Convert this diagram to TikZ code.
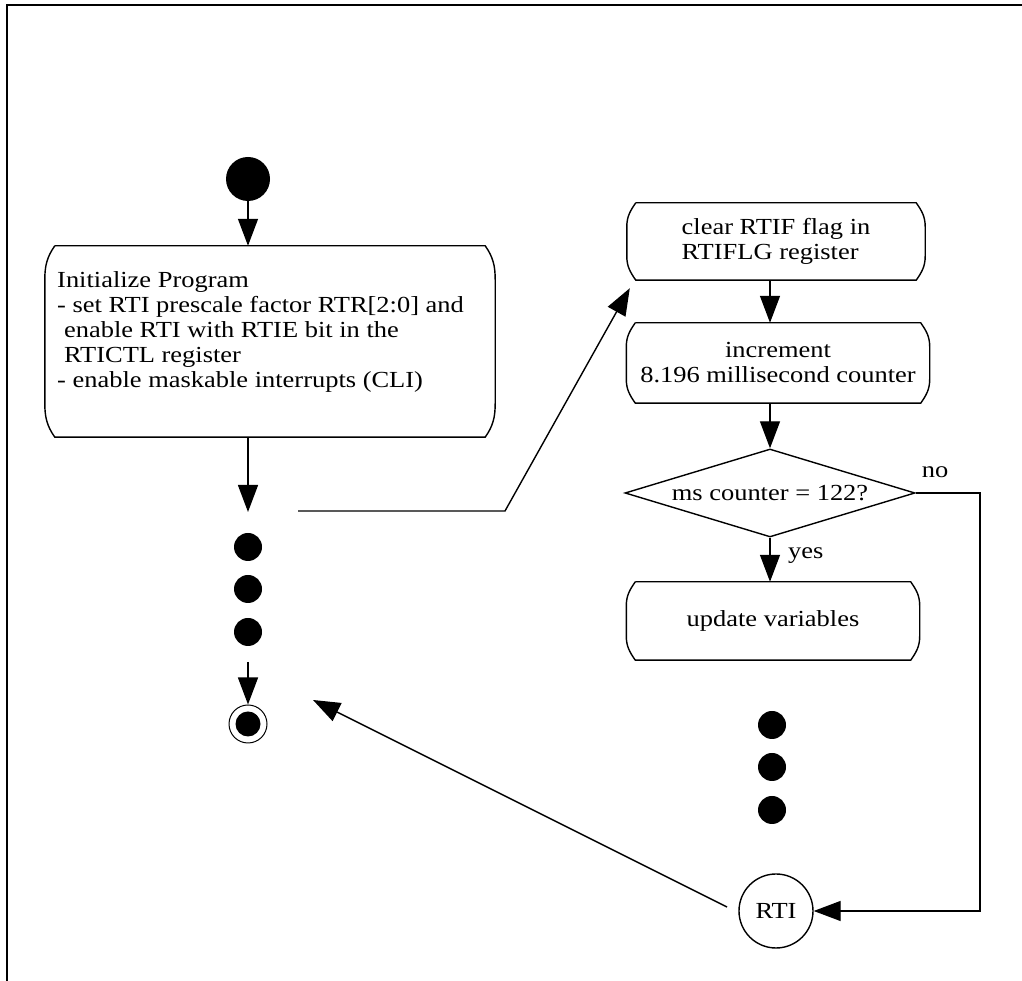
\documentclass[tikz,border=0pt]{standalone}
\usepackage{fontspec}
\setmainfont[FakeStretch=1.15]{Liberation Serif}
\usetikzlibrary{arrows.meta,shapes.geometric,calc}

% outline of an activity box: straight top/bottom, bulging sides
\newcommand\actoutline[3]{%
  \draw[ln] ($(#1.north west)+(#2,0)$) -- ($(#1.north east)+(-#2,0)$)
    to[out=-55,in=90] ($(#1.north east)+(0,-#3)$) -- ($(#1.south east)+(0,#3)$)
    to[out=-90,in=55] ($(#1.south east)+(-#2,0)$) -- ($(#1.south west)+(#2,0)$)
    to[out=125,in=-90] ($(#1.south west)+(0,#3)$) -- ($(#1.north west)+(0,-#3)$)
    to[out=90,in=-125] ($(#1.north west)+(#2,0)$);}

\begin{document}
\begin{tikzpicture}[x=1pt,y=1pt,
  every node/.style={font=\fontsize{23}{25}\selectfont},
  ln/.style={line width=1.4pt},
  arr/.style={ln,-{Triangle[length=27pt,width=20pt]}},
  actbox/.style={rectangle,inner sep=0pt},
  bigdot/.style={circle,fill=black,inner sep=0pt,minimum size=28pt},
  decision/.style={diamond,draw,ln,inner sep=0pt,shape aspect=3.3,
    minimum width=290pt,minimum height=88pt},
]
\useasboundingbox (0,0) rectangle (1022,981);

% page frame
\draw[line width=1.6pt] (7,0) -- (7,976);
\draw[line width=2.6pt] (6,976) -- (1022,976);

% main program column
\node[circle,fill=black,inner sep=0pt,minimum width=42pt,minimum height=44pt] (start) at (248,802) {};
\node[actbox,minimum width=450pt,minimum height=191pt] (init) at (270,639.5) {};
\actoutline{init}{10}{34}
\node[anchor=north west,align=left,inner sep=0pt] (inittext) at (57,710)
  {Initialize Program\\
   - set RTI prescale factor RTR[2:0] and\\
   \hspace*{0.3em}enable RTI with RTIE bit in the\\
   \hspace*{0.3em}RTICTL register\\
   - enable maskable interrupts (CLI)};
\coordinate (a1) at (248,469);
\node[bigdot] (d1) at (248,434) {};
\node[bigdot] (d2) at (248,392) {};
\node[bigdot] (d3) at (248,349) {};
\coordinate (a2) at (248,319);
\node[circle,draw,line width=1pt,inner sep=0pt,minimum size=38pt,
  path picture={\fill (path picture bounding box.center) circle (12.5pt);}] (end) at (248,257) {};

\draw[arr] (start.south) -- (start.south |- init.north);
\draw[arr] (init.south -| start) -- (a1);
\draw[arr] (a2) -- (end.north);

% interrupt service routine column
\node[actbox,minimum width=298pt,minimum height=77pt,align=left] (b1) at (776,739.5)
  {clear RTIF flag in\\RTIFLG register};
\actoutline{b1}{9}{24}
\node[actbox,minimum width=303pt,minimum height=80pt,align=center] (b2) at (778,618)
  {increment\\8.196 millisecond counter};
\actoutline{b2}{9}{24}
\node[decision] (dia) at (770,488) {ms counter = 122?};
\node[actbox,minimum width=293pt,minimum height=78pt] (b3) at (773,360) {update variables};
\actoutline{b3}{9}{24}
\node[bigdot] (e1) at (772,256) {};
\node[bigdot] (e2) at (772,214) {};
\node[bigdot] (e3) at (772,171) {};
\node[circle,draw,ln,inner sep=0pt,minimum size=74pt] (rti) at (776,70) {RTI};

\draw[arr] (b1.south -| dia.north) -- (b2.north -| dia.north);
\draw[arr] (b2.south -| dia.north) -- (dia.north);
\draw[arr] (dia.south) -- (b3.north -| dia.south)
  node[pos=0.4,right=14pt] (yes) {yes};
\coordinate (nocorner) at (980,488);
\draw[arr] (dia.east) -- (nocorner) -- (nocorner |- rti.east) -- (rti.east);
\node (no) at (935,509) {no};

% interrupt entry and return
\coordinate (c1) at (298,470);
\coordinate (c2) at (505,470);
\coordinate (b1in) at ($(b1.south west)+(3,-8)$);
\draw[arr] (c1) -- (c2) -- (b1in);
\coordinate (rtiout) at ($(rti.center)+(-49,4)$);
\coordinate (endin) at ($(end.center)+(65,24)$);
\draw[arr] (rtiout) -- (endin);
\end{tikzpicture}
\end{document}
